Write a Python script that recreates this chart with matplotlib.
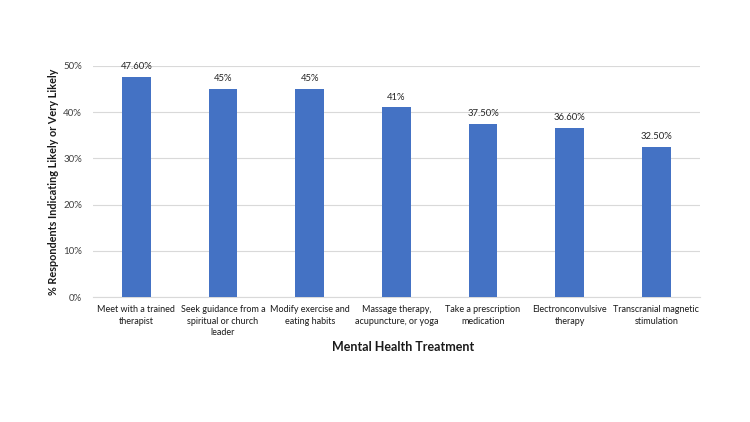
import matplotlib.pyplot as plt
from matplotlib.ticker import FuncFormatter

categories = ["Meet with a trained\ntherapist",
              "Seek guidance from a\nspiritual or church\nleader",
              "Modify exercise and\neating habits",
              "Massage therapy,\nacupuncture, or yoga",
              "Take a prescription\nmedication",
              "Electronconvulsive\ntherapy",
              "Transcranial magnetic\nstimulation"]
values = [47.6, 45, 45, 41, 37.5, 36.6, 32.5]
value_labels = ["47.60%", "45%", "45%", "41%", "37.50%", "36.60%", "32.50%"]
y_ticks = [0, 10, 20, 30, 40, 50]

plt.rcParams['font.family'] = ['Lato', 'DejaVu Sans']

fig = plt.figure(figsize=(7.5, 4.22), dpi=100)
ax = fig.add_axes([0.124, 0.296, 0.809, 0.548])

x = range(len(categories))
bars = ax.bar(x, values, width=0.33, color='#4472C4', zorder=3)

for b, lab in zip(bars, value_labels):
    ax.annotate(lab, (b.get_x() + b.get_width() / 2, b.get_height()),
                xytext=(0, 4), textcoords='offset points',
                ha='center', va='bottom', fontsize=6.8, color='#262626')

ax.set_xlim(-0.5, len(categories) - 0.5)
ax.set_ylim(0, 50)
ax.set_yticks(y_ticks)
ax.yaxis.set_major_formatter(FuncFormatter(lambda v, p: f"{v:.0f}%"))
ax.set_xticks(list(x))
ax.set_xticklabels(categories, fontsize=6.5, color='#1a1a1a', linespacing=1.35)
ax.tick_params(axis='y', labelsize=7, colors='#404040', length=0, pad=8)
ax.tick_params(axis='x', length=0, pad=6)

ax.grid(axis='y', color='#D9D9D9', linewidth=0.8, zorder=0)
for s in ['top', 'right', 'left']:
    ax.spines[s].set_visible(False)
ax.spines['bottom'].set_color('#D9D9D9')
ax.spines['bottom'].set_linewidth(0.8)

ax.set_ylabel("% Respondents Indicating Likely or Very Likely",
              fontsize=7.8, fontweight='bold', color='#1a1a1a', labelpad=3)
fig.text(0.537, 0.178, "Mental Health Treatment", ha='center', va='center',
         fontsize=9, fontweight='bold', color='#1a1a1a')

fig.savefig('out.png', dpi=100, facecolor='white')
